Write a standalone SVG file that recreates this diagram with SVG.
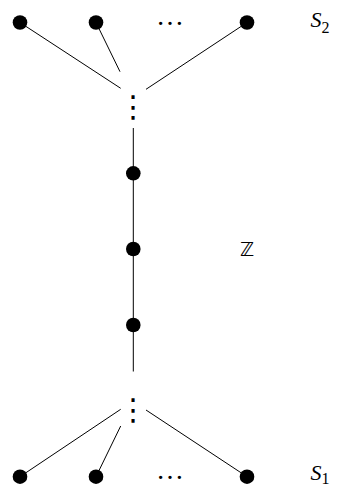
<svg xmlns="http://www.w3.org/2000/svg" width="337" height="488" viewBox="0 0 337 488">
<style>
.e{stroke:#000;stroke-width:1;fill:none}
.n{fill:#000}
.lbl{font-family:"Liberation Serif",serif;font-style:italic;font-size:22px;fill:#000}
.sub{font-family:"Liberation Serif",serif;font-style:normal;font-size:16px}
.hd{font-family:"Liberation Serif",serif;font-size:28px;text-anchor:middle;fill:#000}
.vd{font-family:"DejaVu Sans",sans-serif;font-size:30px;text-anchor:middle;fill:#000}
</style>
<rect width="337" height="488" fill="#fff"/>
<g id="connectors">
<line class="e" x1="20" y1="22.5" x2="120.7" y2="88.3"/>
<line class="e" x1="96" y1="22.5" x2="120" y2="71.7"/>
<line class="e" x1="247" y1="22.5" x2="146" y2="89.3"/>
<line class="e" x1="133.3" y1="128" x2="133.3" y2="371.5"/>
<line class="e" x1="20" y1="476.7" x2="120.7" y2="409.3"/>
<line class="e" x1="96" y1="476.7" x2="120.7" y2="426"/>
<line class="e" x1="247" y1="476.7" x2="146" y2="410"/>
</g>
<g id="top1"><circle class="n" cx="20" cy="22.5" r="7.3"/></g>
<g id="top2"><circle class="n" cx="96" cy="22.5" r="7.3"/></g>
<g id="topdots"><text class="hd" x="170" y="25" letter-spacing="0">…</text></g>
<g id="top3"><circle class="n" cx="247" cy="22.5" r="7.3"/></g>
<g id="S2"><text class="lbl" x="310.5" y="27">S<tspan class="sub" dy="6">2</tspan></text></g>
<g id="vdots-top"><text class="vd" x="133.3" y="117">⋮</text></g>
<g id="m1"><circle class="n" cx="133.3" cy="173.3" r="7.3"/></g>
<g id="m2"><circle class="n" cx="133.3" cy="249" r="7.3"/></g>
<g id="m3"><circle class="n" cx="133.3" cy="325" r="7.3"/></g>
<g id="Z"><text x="247" y="256" font-family="DejaVu Sans,sans-serif" font-size="19" text-anchor="middle">ℤ</text></g>
<g id="vdots-bot"><text class="vd" x="133.3" y="420">⋮</text></g>
<g id="bot1"><circle class="n" cx="20" cy="476.7" r="7.3"/></g>
<g id="bot2"><circle class="n" cx="96" cy="476.7" r="7.3"/></g>
<g id="botdots"><text class="hd" x="170" y="479">…</text></g>
<g id="bot3"><circle class="n" cx="247" cy="476.7" r="7.3"/></g>
<g id="S1"><text class="lbl" x="310.5" y="480">S<tspan class="sub" dy="4">1</tspan></text></g>
</svg>
